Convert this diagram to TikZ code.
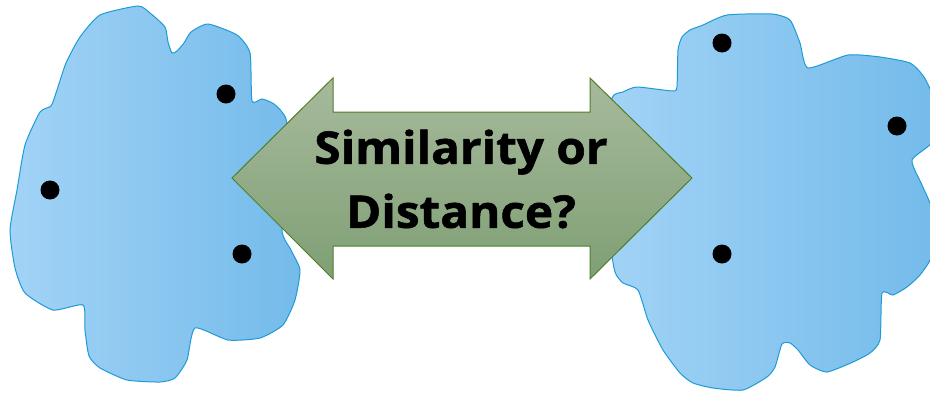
\documentclass[tikz,border=0pt]{standalone}
\usepackage{fontspec}
\setmainfont{Open Sans}[BoldFeatures={FakeStretch=1.06, FakeBold=1.2}]
\definecolor{blobline}{HTML}{1E9BD7}
\definecolor{blobleft}{HTML}{A2D3F6}
\definecolor{blobright}{HTML}{74BBEA}
\definecolor{arrowtop}{HTML}{A7BA9C}
\definecolor{arrowbot}{HTML}{7F9F74}
\definecolor{arrowline}{HTML}{4F7F2C}
\tikzset{
  blob/.style={draw=blobline, line width=1pt, left color=blobleft, right color=blobright},
  dot/.style={circle, fill=black, inner sep=0pt, minimum size=19pt},
}
\begin{document}
\begin{tikzpicture}[x=1pt, y=-1pt]
    \useasboundingbox (0,0) rectangle (930,394);
    % left cloud
    \draw[blob] plot[smooth cycle, tension=0.35] coordinates {
        (138,6) (150,13) (165,27) (168,42) (172,53) (177,51) (184,43) (191,32)
        (208,24) (237,35) (250,53) (252,101) (262,99) (274,104) (286,119)
        (292,170) (282,230) (291,250) (300,270) (295,300) (283,325) (260,338)
        (228,340) (195,328) (187,360) (175,378) (160,382) (127,380) (100,368)
        (89,356) (85,330) (83,305) (53,310) (25,293) (15,268) (10,230) (17,190)
        (25,145) (40,112) (51,106) (56,93) (66,63) (80,37) (100,15)};
    % right cloud
    \draw[blob] plot[smooth cycle, tension=0.35] coordinates {
        (727,15) (772,14) (790,20) (800,43) (808,68) (848,55) (880,57) (910,63)
        (924,77) (934,100) (934,140) (912,160) (922,185) (932,210) (932,255)
        (920,275) (907,287) (893,295) (882,293) (880,340) (870,353) (853,362)
        (827,372) (810,365) (798,350) (790,343) (782,344) (775,367) (767,377)
        (743,390) (713,388) (693,383) (680,373) (663,350) (648,320) (638,290)
        (623,283) (615,272) (610,240) (605,150) (612,98) (623,92) (637,87)
        (673,91) (677,86) (678,50) (682,37) (690,30) (703,25)};
    % points
    \node[dot] (l1) at (226,94) {};
    \node[dot] (l2) at (50,190) {};
    \node[dot] (l3) at (242,254) {};
    \node[dot] (r1) at (722,43) {};
    \node[dot] (r2) at (897,126) {};
    \node[dot] (r3) at (722,254) {};
    % double arrow
    \draw[draw=arrowline, line width=1pt, top color=arrowtop, bottom color=arrowbot]
        (232,178) -- (333,78) -- (333,112) -- (590,112) -- (590,78) -- (692,178)
        -- (590,279) -- (590,246) -- (333,246) -- (333,279) -- cycle;
    \node[align=center, font=\bfseries\fontsize{45}{64}\selectfont] (question) at (461,179)
        {Similarity or\\Distance?};
\end{tikzpicture}
\end{document}
